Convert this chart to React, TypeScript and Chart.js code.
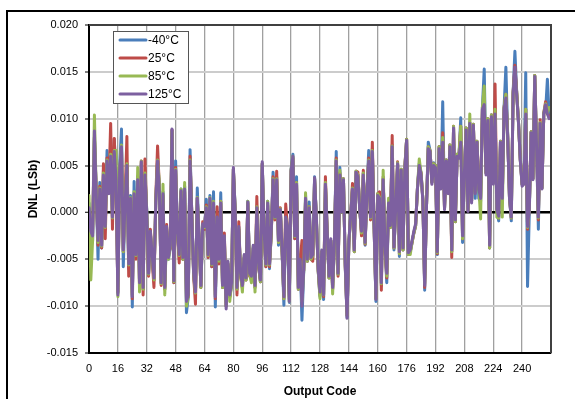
import { useEffect, useRef } from 'react';
import { Chart, registerables } from 'chart.js';

Chart.register(...registerables);

// DNL values in units of 1e-4 LSb, one per output code 0..255
const CODES: number[] = Array.from({ length: 256 }, (_, i) => i);

const DNL_M40: number[] = [
  10, -25, -30, 80, 25, -50, 32, -38, 45, -18, 66, 22, 62, -8, 78, 38,
  -86, 50, 89, -58, 12, 52, -60, 18, -101, 33, -48, 38, -78, 52, -82, 42,
  2, -66, -22, -48, -72, 12, 58, 25, -76, 22, -82, -18, -50, -38, 88, -75,
  55, -22, -48, 25, -50, 28, -107, -90, 67, -5, -68, -88, 26, -28, -80, -15,
  -18, 14, -48, 18, -58, 22, -101, -8, -52, 21, -80, -28, -100, -55, -90, -78,
  46, 3, -82, -18, -66, -80, -48, -72, 12, -66, -70, -38, -80, 6, -58, -74,
  52, -22, -58, 12, -60, -22, 43, -6, 38, -35, 4, -42, -99, -8, -18, -96,
  46, 62, -28, 38, -82, -52, -115, -62, 18, -52, 11, -50, -48, 38, -8, -62,
  -90, -42, -93, 32, -22, -70, -30, -82, -32, 65, -66, 48, 2, 36, -58, -112,
  -32, -4, 26, -42, 44, 40, 4, -22, 42, -35, 22, 66, -5, 68, -18, -95,
  20, 16, -78, 36, -36, -75, 12, -16, 72, -40, 8, 52, -47, 46, -40, 47,
  78, -45, -42, -32, -22, -14, 26, 52, 42, 14, -83, 6, 75, 66, 32, 53,
  50, -45, 70, 27, 118, 4, 56, 22, 72, -42, 91, -10, 62, 60, 101, -32,
  44, 90, 2, 96, 12, 94, 15, 76, 15, 12, 112, 153, 42, 100, -38, 104,
  32, 108, 4, -9, 76, 16, 112, 155, 82, 16, -9, 128, 172, 128, 96, 56,
  30, 32, 149, -79, 2, 86, 36, 146, 72, -18, 96, 26, 106, 108, 142, 103,
];

const DNL_25: number[] = [
  0, -28, -22, 80, 22, -35, 28, -38, 52, -28, 58, 25, 95, -18, 79, 30,
  -85, 42, 68, -42, 15, 81, -68, 12, -92, 18, -50, 38, -80, 55, -88, 57,
  -5, -68, -18, -50, -80, 15, 71, 25, -78, 18, -82, -13, -45, -38, 88, -75,
  48, -22, -54, 22, -50, 22, -92, -90, 60, -3, -68, -98, 15, -28, -80, -10,
  -18, 8, -48, 12, -58, 8, -92, 6, -55, 12, -80, -22, -100, -55, -90, -76,
  46, 0, -88, -10, -68, -80, -48, -72, 10, -68, -70, -38, -80, 17, -58, -74,
  52, -22, -58, 8, -58, -22, 38, -8, 44, -32, 5, -42, -92, 9, -18, -93,
  44, 58, -28, 32, -82, -52, -30, -62, 14, -52, 6, -50, -52, 36, -8, -62,
  -88, -42, -90, 38, -22, -70, -30, -82, -32, 58, -68, 42, 3, 36, -58, -110,
  -32, -4, 31, -42, 44, 43, 5, -25, 45, -34, 22, 58, -8, 75, -18, -92,
  20, 22, -83, 38, -38, -70, 12, -16, 82, -38, 8, 54, -44, 46, -40, 48,
  78, -45, -42, -32, -22, -14, 26, 50, 42, 14, -80, 6, 70, 66, 32, 52,
  50, -44, 70, 27, 85, 4, 56, 22, 72, -48, 92, -10, 62, 60, 92, -28,
  44, 90, 2, 96, 12, 94, 22, 76, 27, 16, 112, 118, 42, 100, -38, 104,
  32, 137, 4, -6, 76, 16, 112, 126, 82, 16, -6, 128, 157, 128, 96, 56,
  30, 32, 110, -18, 6, 86, 36, 146, 72, -8, 99, 26, 106, 118, 106, 102,
];

const DNL_85: number[] = [
  18, -72, -30, 104, 22, -32, 26, -36, 42, -16, 56, 22, 62, -6, 66, 66,
  -90, 46, 72, -42, 12, 52, -56, 16, -88, 22, -46, 48, -85, 55, -82, 42,
  2, -66, -22, -46, -72, 12, 56, 31, -76, 30, -88, -16, -50, -36, 86, -74,
  46, -22, -46, 25, -50, 32, -100, -90, 56, -5, -66, -86, 16, -26, -80, -14,
  -16, 6, -46, 16, -56, 12, -88, -6, -52, 12, -80, -26, -100, -54, -95, -76,
  46, 3, -82, -16, -66, -85, -46, -72, 12, -66, -75, -36, -85, 6, -56, -74,
  52, -22, -56, 12, -56, -22, 36, -6, 36, -32, 4, -42, -92, -6, -16, -95,
  46, 60, -26, 32, -82, -52, -95, -62, 21, -52, 6, -50, -46, 36, -6, -62,
  -92, -42, -88, 32, -22, -70, -30, -87, -32, 56, -66, 45, 2, 36, -56, -110,
  -32, -4, 26, -42, 44, 40, 4, -22, 42, -33, 22, 56, -6, 66, -16, -92,
  20, 16, -76, 45, -36, -68, 15, -16, 71, -38, 8, 53, -44, 46, -40, 48,
  78, -45, -45, -32, -22, -14, 26, 57, 42, 14, -76, 6, 70, 66, 32, 52,
  50, -43, 70, 27, 80, 4, 56, 22, 72, -42, 92, -10, 62, 60, 92, -28,
  44, 90, 2, 105, 12, 94, 22, 76, 28, -7, 112, 135, 42, 100, -38, 104,
  32, 110, -5, -6, 76, -5, 112, 126, 82, 16, -6, 128, 150, 128, 96, 56,
  30, 32, 110, -16, 6, 86, 36, 146, 72, -6, 96, 26, 106, 116, 106, 112,
];

const DNL_125: number[] = [
  5, -20, -25, 87, 20, -30, 25, -35, 40, -15, 55, 20, 60, -5, 65, 35,
  -88, 45, 70, -40, 10, 50, -55, 15, -90, 20, -45, 35, -75, 54, -80, 40,
  0, -65, -20, -45, -70, 10, 55, 22, -75, 20, -80, -15, -48, -35, 89, -73,
  45, -20, -45, 23, -48, 25, -95, -88, 55, -5, -65, -85, 15, -25, -78, -12,
  -15, 5, -45, 15, -55, 10, -90, -5, -50, 10, -78, -25, -103, -52, -88, -75,
  48, 2, -80, -15, -65, -78, -45, -70, 11, -65, -68, -35, -78, 5, -55, -72,
  54, -20, -55, 10, -55, -20, 35, -5, 35, -30, 3, -40, -90, -5, -15, -95,
  45, 60, -25, 30, -80, -50, -100, -60, 15, -50, 5, -48, -45, 37, -5, -60,
  -85, -40, -88, 30, -20, -68, -28, -80, -30, 55, -65, 40, 1, 35, -55, -113,
  -30, -2, 25, -40, 43, 38, 3, -20, 40, -32, 20, 55, -5, 65, -15, -93,
  18, 15, -75, 35, -35, -65, 10, -14, 70, -37, 7, 52, -42, 45, -38, 46,
  77, -43, -40, -30, -20, -12, 25, 50, 40, 12, -78, 5, 68, 65, 30, 50,
  48, -42, 68, 25, 75, 3, 55, 20, 70, -40, 90, -8, 60, 58, 75, -25,
  42, 88, 1, 95, 10, 93, 20, 75, 25, 15, 110, 115, 40, 98, -35, 102,
  30, 105, 3, -4, 75, 15, 110, 122, 80, 15, -5, 125, 155, 125, 95, 55,
  28, 30, 105, -15, 5, 85, 35, 145, 70, -5, 95, 25, 105, 115, 105, 100,
];

const SERIES_NAMES: string[] = ['-40°C', '25°C', '85°C', '125°C'];
const SERIES_COLORS: string[] = ['#4A7EBB', '#BE4B48', '#98B954', '#7D60A0'];
const SERIES_VALUES: number[][] = [DNL_M40, DNL_25, DNL_85, DNL_125];

const Y_MIN = -0.015;
const Y_MAX = 0.02;
const Y_STEP = 0.005;
const X_MIN = 0;
const X_MAX = 256;
const X_STEP = 16;

const FONT = 'Arial, "Liberation Sans", Helvetica, sans-serif';

const decorPlugin = {
  id: 'decor',
  beforeDraw(chart: any) {
    const { ctx, width, height } = chart;
    ctx.save();
    ctx.fillStyle = '#ffffff';
    ctx.fillRect(0, 0, width, height);
    ctx.restore();
  },
  afterDraw(chart: any) {
    const { ctx, chartArea: a } = chart;
    ctx.save();
    // outer frame
    ctx.strokeStyle = '#000000';
    ctx.lineWidth = 2;
    ctx.beginPath();
    ctx.moveTo(7, 420);
    ctx.lineTo(7, 11);
    ctx.lineTo(620, 11);
    ctx.stroke();
    // top & right plot border
    ctx.strokeStyle = '#404040';
    ctx.lineWidth = 2;
    ctx.beginPath();
    ctx.moveTo(a.left, a.top);
    ctx.lineTo(a.right, a.top);
    ctx.lineTo(a.right, a.bottom);
    ctx.stroke();
    // axis titles
    ctx.fillStyle = '#000000';
    ctx.font = `bold 12px ${FONT}`;
    ctx.textAlign = 'center';
    ctx.textBaseline = 'middle';
    ctx.fillText('Output Code', (a.left + a.right) / 2, 392);
    ctx.save();
    ctx.translate(34, (a.top + a.bottom) / 2);
    ctx.rotate(-Math.PI / 2);
    ctx.fillText('DNL (LSb)', 0, 0);
    ctx.restore();
    // legend
    const lx = 113, ly = 31, lw = 75, lh = 72;
    ctx.fillStyle = '#ffffff';
    ctx.fillRect(lx, ly, lw, lh);
    ctx.strokeStyle = '#555555';
    ctx.lineWidth = 1;
    ctx.strokeRect(lx + 0.5, ly + 0.5, lw, lh);
    ctx.font = `12px ${FONT}`;
    ctx.textAlign = 'left';
    SERIES_NAMES.forEach((name, i) => {
      const y = 40 + i * 18;
      ctx.strokeStyle = SERIES_COLORS[i];
      ctx.lineWidth = 3;
      ctx.lineCap = 'round';
      ctx.beginPath();
      ctx.moveTo(120, y);
      ctx.lineTo(146, y);
      ctx.stroke();
      ctx.fillStyle = '#000000';
      ctx.fillText(name, 148, y + 0.5);
    });
    ctx.restore();
  },
};

export default function App() {
  const ref = useRef<HTMLCanvasElement | null>(null);
  useEffect(() => {
    if (!ref.current) return;
    const datasets = SERIES_VALUES.map((vals, si) => ({
      label: SERIES_NAMES[si],
      data: CODES.map((c, i) => ({ x: c, y: vals[i] / 10000 })),
      borderColor: SERIES_COLORS[si],
      backgroundColor: SERIES_COLORS[si],
      borderWidth: 3,
      pointRadius: 0,
      tension: 0,
      borderCapStyle: 'round' as const,
      borderJoinStyle: 'round' as const,
      order: 4 - si,
    }));
    const chart = new Chart(ref.current, {
      type: 'line',
      data: { datasets },
      options: {
        responsive: false,
        animation: false,
        devicePixelRatio: 1,
        layout: { padding: { top: 25, right: 24, left: 0, bottom: 0 } },
        plugins: { legend: { display: false }, tooltip: { enabled: false } },
        scales: {
          x: {
            type: 'linear',
            min: X_MIN,
            max: X_MAX,
            afterFit: (s: any) => { s.height = 46; },
            border: { display: true, color: '#000000', width: 2 },
            grid: { color: '#a0a0a0', lineWidth: 1.3, drawTicks: false },
            ticks: {
              stepSize: X_STEP,
              padding: 9,
              color: '#000000',
              font: { family: FONT, size: 11 },
              maxRotation: 0,
              callback: (v: any) => (v >= X_MAX ? '' : String(v)),
            },
          },
          y: {
            type: 'linear',
            min: Y_MIN,
            max: Y_MAX,
            afterFit: (s: any) => { s.width = 89; },
            border: { display: true, color: '#000000', width: 2 },
            grid: {
              color: (c: any) => (c.tick && Math.abs(c.tick.value) < 1e-9 ? '#000000' : '#cccccc'),
              lineWidth: (c: any) => (c.tick && Math.abs(c.tick.value) < 1e-9 ? 2.5 : 2),
              tickLength: 4,
              tickColor: '#000000',
              tickWidth: 1,
            },
            ticks: {
              stepSize: Y_STEP,
              padding: 7,
              color: '#000000',
              font: { family: FONT, size: 11 },
              callback: (v: any) => Number(v).toFixed(3),
            },
          },
        },
      },
      plugins: [decorPlugin],
    });
    return () => chart.destroy();
  }, []);
  return (
    <div style={{ position: 'fixed', left: 0, top: 0, width: 575, height: 399, background: '#fff' }}>
      <canvas ref={ref} width={575} height={399} style={{ width: 575, height: 399, display: 'block' }} />
    </div>
  );
}
